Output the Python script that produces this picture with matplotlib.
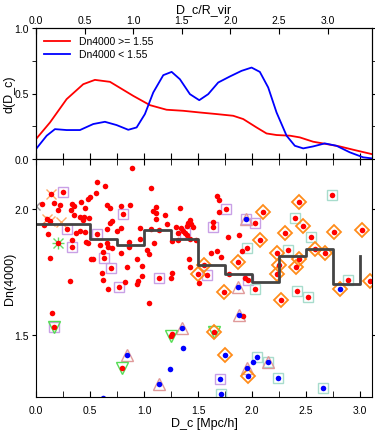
import matplotlib
matplotlib.use('Agg')
import matplotlib.pyplot as plt
from matplotlib.ticker import MultipleLocator

plt.rcParams['font.family'] = ['Liberation Sans', 'DejaVu Sans']

# top panel: distribution of D_c/R_vir
red_cx = [0.0, 0.144, 0.315, 0.486, 0.606, 0.761, 1.0, 1.172, 1.343, 1.514, 1.686, 1.857,
          2.028, 2.131, 2.268, 2.371, 2.474, 2.611, 2.713, 2.850, 2.988, 3.124, 3.261, 3.45]
red_cy = [0.152, 0.279, 0.457, 0.571, 0.604, 0.589, 0.482, 0.411, 0.376, 0.368, 0.355, 0.343,
          0.330, 0.305, 0.241, 0.195, 0.183, 0.178, 0.165, 0.132, 0.114, 0.096, 0.071, 0.038]
blue_cx = [0.0, 0.110, 0.195, 0.315, 0.452, 0.589, 0.709, 0.829, 0.949, 1.035, 1.120, 1.206,
           1.309, 1.395, 1.480, 1.583, 1.679, 1.771, 1.874, 1.994, 2.114, 2.217, 2.302, 2.388,
           2.474, 2.577, 2.662, 2.748, 2.850, 2.970, 3.090, 3.227, 3.364, 3.45]
blue_cy = [0.076, 0.178, 0.228, 0.221, 0.221, 0.267, 0.284, 0.259, 0.223, 0.241, 0.343, 0.508,
           0.640, 0.665, 0.609, 0.495, 0.449, 0.495, 0.584, 0.630, 0.673, 0.698, 0.665, 0.546,
           0.355, 0.178, 0.101, 0.081, 0.096, 0.119, 0.101, 0.051, 0.013, 0.005]

# median Dn4000 per bin
step_x = [0.0, 0.25, 0.5, 0.75, 1.0, 1.25, 1.5, 1.75, 2.0, 2.25, 2.5, 2.75, 3.0]
step_y = [1.942, 1.942, 1.881, 1.858, 1.918, 1.884, 1.779, 1.742, 1.713, 1.816, 1.841, 1.702, 1.816]

red_x = [0.886, 0.568, 0.642, 0.253, 0.136, 0.553, 0.500, 0.478, 0.417, 0.053, 0.167, 0.222,
         0.336, 0.355, 0.454, 0.654, 0.685, 0.784, 0.870, 0.207, 0.321, 0.809, 0.352, 0.407,
         0.444, 0.494, 0.438, 0.099, 0.130, 0.074, 0.685, 0.701, 0.654, 0.963, 0.290, 0.407,
         0.454, 0.370, 0.114, 0.562, 0.747, 0.784, 0.330, 0.463, 0.485, 0.207, 0.593, 0.330,
         0.660, 0.670, 0.858, 0.861, 0.963, 0.701, 0.623, 0.784, 0.130, 0.509, 0.531, 0.630,
         0.932, 0.840, 0.691, 0.608, 0.978, 0.312, 0.978,
         0.617, 0.670, 0.772, 0.821, 0.932, 0.948, 0.145, 0.167, 0.793,
         1.065, 1.679, 1.698, 1.759, 1.111, 1.086, 1.108, 1.333, 1.698, 1.194, 1.108, 2.028,
         1.426, 1.410, 1.435, 1.395, 1.642, 1.642, 1.210, 1.296, 1.340, 1.457, 1.062, 1.142,
         1.364, 1.312, 1.380, 1.395, 1.781, 1.877, 2.074, 1.096, 1.256, 1.318, 1.426, 1.481,
         1.951, 1.910, 1.025, 1.046, 1.673, 1.620, 1.710, 1.420, 1.873, 1.559, 1.426, 1.256,
         1.503, 1.586, 1.790, 1.142, 1.250, 1.935, 1.960,
         1.509, 1.049, 1.741, 2.028, 1.920, 1.247, 1.262, 1.648,
         2.886, 3.093, 2.414, 2.522, 2.265, 2.744, 2.435, 2.105, 2.398, 2.475, 2.306, 2.759,
         3.021, 2.546, 2.330, 2.235, 2.583, 2.676, 2.438, 2.404, 2.250, 2.235]
red_y = [2.165, 2.110, 2.093, 2.070, 2.062, 2.066, 2.049, 2.040, 2.029, 2.020, 2.024, 2.017,
         2.020, 2.013, 2.007, 2.017, 2.007, 2.013, 2.017, 1.997, 1.997, 1.980, 1.977, 1.971,
         1.971, 1.967, 1.958, 1.960, 1.952, 1.938, 1.947, 1.954, 1.921, 1.927, 1.921, 1.914,
         1.910, 1.905, 1.901, 1.901, 1.914, 1.927, 1.878, 1.870, 1.865, 1.868, 1.857, 1.852,
         1.868, 1.852, 1.870, 1.849, 1.881, 1.848, 1.831, 1.828, 1.807, 1.804, 1.802, 1.807,
         1.802, 1.773, 1.769, 1.749, 1.775, 1.714, 1.735,
         1.718, 1.683, 1.692, 1.712, 1.702, 1.715, 1.589, 1.533, 1.372,
         2.086, 2.053, 2.037, 2.003, 2.011, 1.993, 1.984, 2.007, 1.989, 1.976, 1.963, 1.944,
         1.956, 1.947, 1.940, 1.934, 1.950, 1.929, 1.940, 1.930, 1.927, 1.930, 1.921, 1.918,
         1.914, 1.905, 1.905, 1.897, 1.892, 1.900, 1.877, 1.865, 1.874, 1.877, 1.881, 1.877,
         1.848, 1.835, 1.838, 1.824, 1.835, 1.825, 1.812, 1.802, 1.792, 1.779, 1.773, 1.746,
         1.742, 1.739, 1.742, 1.729, 1.726, 1.729, 1.720,
         1.706, 1.630, 1.673, 1.683, 1.577, 1.497, 1.504, 1.515,
         1.718, 1.716, 1.676, 1.652, 1.640, 2.057, 2.031, 1.991, 1.967, 1.934, 1.907, 1.910,
         1.918, 1.892, 1.837, 1.825, 1.844, 1.828, 1.802, 1.773, 1.778, 1.745]

blue_x = [0.840, 0.623, 1.944, 1.873, 1.883, 1.349, 1.358, 1.750, 1.241, 1.136, 1.704, 1.710,
          1.957, 1.960, 2.012, 2.043, 2.145, 2.244, 2.660, 2.815]
blue_y = [1.422, 1.253, 1.963, 1.692, 1.581, 1.530, 1.448, 1.421, 1.368, 1.306, 1.325, 1.266,
          1.372, 1.339, 1.395, 1.414, 1.394, 1.332, 1.290, 1.683]

lav_x = [0.253, 0.809, 0.290, 0.562, 0.330, 0.630, 0.691, 0.772, 0.167, 1.759, 1.944, 2.028,
         1.642, 1.380, 1.586, 1.142, 1.960, 1.704]
lav_y = [2.070, 1.980, 1.921, 1.901, 1.852, 1.807, 1.769, 1.692, 1.533, 2.003, 1.963, 1.944,
         1.929, 1.905, 1.739, 1.729, 1.720, 1.325]

teal_x = [1.951, 2.028, 2.043, 2.145, 2.244, 2.660, 1.710, 2.886, 2.414, 2.522, 2.744, 2.398,
          2.546, 2.330]
teal_y = [1.848, 1.683, 1.414, 1.394, 1.332, 1.290, 1.266, 1.718, 1.676, 1.652, 2.057, 1.967,
          1.892, 1.837]

dia_x = [2.074, 1.873, 1.559, 1.503, 1.741, 1.648, 1.750, 1.960, 2.815, 3.093, 2.265, 2.435,
         2.105, 2.475, 2.306, 2.759, 3.021, 2.235, 2.583, 2.676, 2.438, 2.404, 2.250, 2.235]
dia_y = [1.877, 1.792, 1.779, 1.742, 1.673, 1.515, 1.421, 1.339, 1.683, 1.716, 1.640, 2.031,
         1.991, 1.934, 1.907, 1.910, 1.918, 1.825, 1.844, 1.828, 1.802, 1.773, 1.778, 1.745]

tri_up_x = [0.840, 1.944, 1.873, 1.883, 1.349, 1.136, 1.957, 2.145]
tri_up_y = [1.422, 1.963, 1.692, 1.581, 1.530, 1.306, 1.372, 1.394]

tri_dn_x = [0.167, 0.793, 1.247, 1.648]
tri_dn_y = [1.533, 1.372, 1.497, 1.515]

cross_x = [0.136, 0.099, 0.130, 0.230]
cross_y = [2.062, 1.960, 1.952, 1.950]

star_x = [0.207]
star_y = [1.868]

R_VIR = 0.9  # Mpc/h

fig = plt.figure(figsize=(3.75, 4.31), dpi=100)
ax1 = fig.add_axes([36 / 375, 1 - 160 / 431, 336 / 375, 131 / 431])
ax2 = fig.add_axes([36 / 375, 1 - 398 / 431, 336 / 375, 238 / 431])

# ---- top panel
ax1.set_xlim(0, 3.11)
ax1.set_ylim(0, 1.0)
ax1.xaxis.set_major_locator(MultipleLocator(0.25))
ax1.tick_params(axis='x', direction='in', labelbottom=False, length=4)
ax1.yaxis.set_major_locator(MultipleLocator(0.5))
ax1.yaxis.set_minor_locator(MultipleLocator(0.25))
ax1.tick_params(axis='y', which='both', direction='out', length=3, labelsize=7.5,
                right=True, pad=2)
ax1.set_ylabel('d(D_c)', fontsize=9)
ax1.yaxis.set_label_coords(-0.06, 0.5)

axt = ax1.twiny()
axt.set_xlim(0, 3.11 / R_VIR)
axt.xaxis.set_major_locator(MultipleLocator(0.5))
axt.tick_params(axis='x', direction='in', length=4, labelsize=7.5, pad=2)
axt.set_xlabel('D_c/R_vir', fontsize=9, labelpad=2)
axt.plot(red_cx, red_cy, color='red', lw=1.3, label='Dn4000 >= 1.55')
axt.plot(blue_cx, blue_cy, color='blue', lw=1.3, label='Dn4000 < 1.55')
axt.legend(loc='upper left', frameon=False, fontsize=7.5, handlelength=2.5,
           borderaxespad=0.4, labelspacing=0.3)

# ---- bottom panel
ax2.set_xlim(0, 3.11)
ax2.set_ylim(1.255, 2.2)
ax2.xaxis.set_major_locator(MultipleLocator(0.5))
ax2.xaxis.set_minor_locator(MultipleLocator(0.25))
ax2.tick_params(axis='x', which='both', direction='in', length=4, labelsize=7.5,
                top=True, pad=6)
ax2.yaxis.set_major_locator(MultipleLocator(0.5))
ax2.tick_params(axis='y', direction='out', length=3, labelsize=7.5, right=True, pad=2)
ax2.set_xlabel('D_c [Mpc/h]', fontsize=9, labelpad=1)
ax2.set_ylabel('Dn(4000)', fontsize=9)
ax2.yaxis.set_label_coords(-0.06, 0.5)

ax2.plot(lav_x, lav_y, 's', ms=7, mfc='none', mec='#c9a0e6', mew=1.0)
ax2.plot(teal_x, teal_y, 's', ms=7, mfc='none', mec='#a8dccc', mew=1.0)
ax2.plot(tri_up_x, tri_up_y, '^', ms=8, mfc='none', mec='#e09a9a', mew=1.0)
ax2.plot(tri_dn_x, tri_dn_y, 'v', ms=8, mfc='none', mec='#55dd55', mew=1.0)
ax2.plot(dia_x, dia_y, 'D', ms=7, mfc='none', mec='#ff8c1a', mew=1.3)
ax2.plot(cross_x, cross_y, 'x', ms=7, color='#ffaa66', mew=1.0)
ax2.plot(star_x, star_y, 'x', ms=7, color='#66dd66', mew=1.0)
ax2.plot(star_x, star_y, '+', ms=8, color='#66dd66', mew=1.0)
ax2.plot([0.0], [2.013], 'x', ms=6, color='#999999', mew=1.0)

ax2.plot(red_x, red_y, 'o', ms=4, color='red', mec='red', mew=0)
ax2.plot(blue_x, blue_y, 'o', ms=4, color='blue', mec='blue', mew=0)

ax2.step(step_x, step_y, where='post', color='#444444', lw=2)

fig.savefig('out.png', dpi=100)
